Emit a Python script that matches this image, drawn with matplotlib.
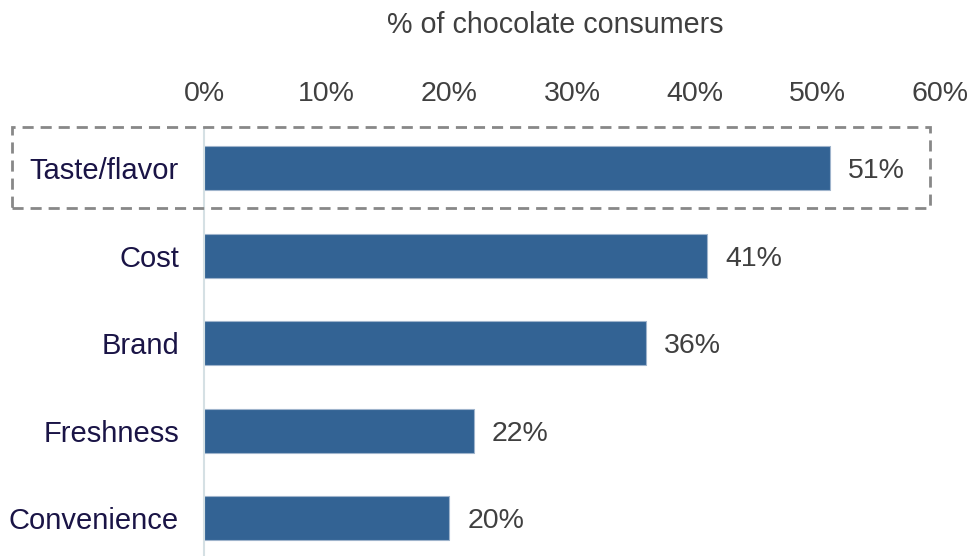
import matplotlib
matplotlib.use("Agg")
import matplotlib.pyplot as plt
from matplotlib.patches import Rectangle
from matplotlib.ticker import FuncFormatter

categories = ["Taste/flavor", "Cost", "Brand", "Freshness", "Convenience"]
shares = [51, 41, 36, 22, 20]
x_ticks = [0, 10, 20, 30, 40, 50, 60]

plt.rcParams["font.family"] = ["Liberation Sans", "DejaVu Sans"]

W, H, DPI = 969, 556, 100
fig = plt.figure(figsize=(W / DPI, H / DPI), dpi=DPI)
ax = fig.add_axes([204 / W, 0, (940 - 204) / W, 1 - 128 / H])

bar_color = "#336394"
ypos = list(range(len(categories)))
ax.barh(ypos, shares, height=0.5, color=bar_color, edgecolor="#9fb4cc", linewidth=0.8)

for y, v in zip(ypos, shares):
    ax.annotate(f"{v}%", xy=(v, y), xytext=(13, 0), textcoords="offset points",
                ha="left", va="center_baseline", fontsize=20.5, color="#404040")

ax.set_xlim(0, 60)
ax.set_ylim(4.43, -0.458)
ax.set_yticks(ypos)
ax.set_yticklabels(categories, va="center_baseline")
ax.set_xticks(x_ticks)
ax.xaxis.set_major_formatter(FuncFormatter(lambda v, p: f"{v:.0f}%"))
ax.xaxis.tick_top()
ax.tick_params(axis="x", length=0, pad=15, labelsize=20.5, labelcolor="#404040")
ax.tick_params(axis="y", length=0, pad=18, labelsize=21, labelcolor="#1a1446")

for side in ["top", "right", "bottom"]:
    ax.spines[side].set_visible(False)
ax.spines["left"].set_color("#d5e0e4")
ax.spines["left"].set_linewidth(1.5)

# highlight frame around the leading row
frame = Rectangle((12 / W, 1 - 208 / H), (930 - 12) / W, (208 - 127) / H,
                  transform=fig.transFigure, fill=False, edgecolor="#888888",
                  linewidth=2, linestyle=(0, (4, 2.5)), clip_on=False)
fig.add_artist(frame)

fig.text(555 / W, 1 - 25 / H, "% of chocolate consumers", ha="center", va="center",
         fontsize=20.6, color="#404040")

fig.savefig("out.png", dpi=DPI)
